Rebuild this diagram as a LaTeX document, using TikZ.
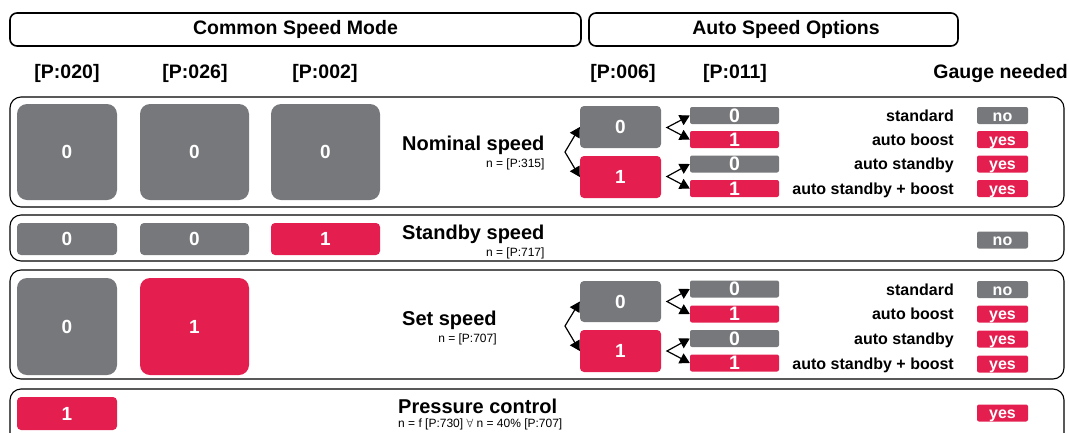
\documentclass[tikz,border=0pt]{standalone}
\usepackage{fontspec}
\setmainfont{Liberation Sans}
\usetikzlibrary{arrows.meta,positioning}
\definecolor{speedgray}{RGB}{119,120,123}
\definecolor{speedred}{RGB}{228,30,79}
\tikzset{
  headbox/.style={draw, line width=1.6pt, rounded corners=7pt, minimum height=33, inner sep=0pt,
    font=\bfseries\fontsize{19.5}{19.5}\selectfont},
  colhead/.style={inner sep=0pt, font=\bfseries\fontsize{19.5}{19.5}\selectfont},
  rowbox/.style={draw, line width=1.1pt, rounded corners=11pt},
  blk/.style={rounded corners=4pt, text=white, inner sep=0pt, text height=13.5pt, text depth=0pt,
    font=\bfseries\fontsize{19}{19}\selectfont},
  greyblk/.style={blk, fill=speedgray},
  redblk/.style={blk, fill=speedred},
  bar/.style={rounded corners=2pt, text=white, inner sep=0pt, minimum width=89, minimum height=17,
    text height=13.8pt, text depth=0pt, font=\bfseries\fontsize{19.5}{19.5}\selectfont},
  gauge/.style={rounded corners=2pt, text=white, inner sep=0pt, minimum width=51, minimum height=17,
    text height=11.5pt, text depth=0pt, font=\bfseries\fontsize{16}{16}\selectfont},
  optlbl/.style={anchor=east, inner sep=0pt, text height=11.5pt, text depth=0pt,
    font=\bfseries\fontsize{16}{16}\selectfont},
  rowtitle/.style={anchor=west, inner sep=0pt, font=\bfseries\fontsize{20}{20}\selectfont},
  rowsub/.style={inner sep=0pt, font=\fontsize{12}{12}\selectfont},
  fork/.style={line width=1.2pt, {Triangle[length=10pt,width=11pt]}-{Triangle[length=10pt,width=11pt]}}
}
\begin{document}
\begin{tikzpicture}[x=1pt, y=-1pt]
  \useasboundingbox (0,0) rectangle (1069,432);
  \clip (0,0) rectangle (1069,432);
  % headings
  \node[headbox, minimum width=571] (common) at (295.5,29.5) {Common Speed Mode};
  \node[headbox, minimum width=369] (autobox) at (773.5,29.5) {};
  \node[colhead] (autotitle) at (786,29.5) {Auto Speed Options};
  \node[colhead] (p020) at (67,73) {[P:020]};
  \node[colhead] (p026) at (195,73) {[P:026]};
  \node[colhead] (p002) at (325,73) {[P:002]};
  \node[colhead] (p006) at (623,73) {[P:006]};
  \node[colhead] (p011) at (735,73) {[P:011]};
  \node[colhead, anchor=east] (gauge) at (1068,73) {Gauge needed};

  % nominal speed
  \draw[rowbox] (10,97) rectangle (1064,207);
  \node[greyblk, rounded corners=10pt, minimum width=100, minimum height=96] (nom020) at (67,152) {0};
  \node[greyblk, rounded corners=10pt, minimum width=109, minimum height=96] (nom026) at (194.5,152) {0};
  \node[greyblk, rounded corners=10pt, minimum width=109, minimum height=96] (nom002) at (325.5,152) {0};
  \node[rowtitle] (nomtitle) at (402,145) {Nominal speed};
  \node[rowsub, below left=4pt and 0pt of nomtitle.south east] (nomsub) {n = [P:315]};
  \node[greyblk, minimum width=81, minimum height=42] (nom006a) at (620.5,127) {0};
  \node[redblk, minimum width=81, minimum height=42] (nom006b) at (620.5,177) {1};
  \coordinate (nomfork) at (565,152);
  \draw[fork] (nom006a.west) -- (nomfork) -- (nom006b.west);
  \node[bar, fill=speedgray] (nom011a) at (734.5,115.5) {0};
  \node[bar, fill=speedred] (nom011b) at (734.5,139.5) {1};
  \node[bar, fill=speedgray] (nom011c) at (734.5,164) {0};
  \node[bar, fill=speedred] (nom011d) at (734.5,188.5) {1};
  \coordinate (nomforka) at (667,127.5);
  \coordinate (nomforkb) at (667,176.5);
  \draw[fork] (nom011a.west) -- (nomforka) -- (nom011b.west);
  \draw[fork] (nom011c.west) -- (nomforkb) -- (nom011d.west);
  \node[optlbl] (nomstd) at (954,115.5) {standard};
  \node[optlbl] (nomboost) at (954,139.5) {auto boost};
  \node[optlbl] (nomstby) at (954,164) {auto standby};
  \node[optlbl] (nomboth) at (954,188.5) {auto standby + boost};
  \node[gauge, fill=speedgray] (nomga) at (1002.5,115.5) {no};
  \node[gauge, fill=speedred] (nomgb) at (1002.5,139.5) {yes};
  \node[gauge, fill=speedred] (nomgc) at (1002.5,164) {yes};
  \node[gauge, fill=speedred] (nomgd) at (1002.5,188.5) {yes};

  % standby speed
  \draw[rowbox] (10,215) rectangle (1064,261);
  \node[greyblk, minimum width=100, minimum height=32] (sby020) at (67,239) {0};
  \node[greyblk, minimum width=109, minimum height=32] (sby026) at (194.5,239) {0};
  \node[redblk, minimum width=109, minimum height=32] (sby002) at (325.5,239) {1};
  \node[rowtitle] (sbytitle) at (402,234) {Standby speed};
  \node[rowsub, below left=4pt and 0pt of sbytitle.south east] (sbysub) {n = [P:717]};
  \node[gauge, fill=speedgray] (sbyga) at (1002.5,240) {no};

  % set speed
  \draw[rowbox] (10,270) rectangle (1064,379);
  \node[greyblk, rounded corners=10pt, minimum width=100, minimum height=97] (set020) at (67,326.5) {0};
  \node[redblk, rounded corners=10pt, minimum width=109, minimum height=97] (set026) at (194.5,326.5) {1};
  \node[rowtitle] (settitle) at (402,320) {Set speed};
  \node[rowsub, below left=4pt and 0pt of settitle.south east] (setsub) {n = [P:707]};
  \node[greyblk, minimum width=81, minimum height=41] (set006a) at (620.5,301.5) {0};
  \node[redblk, minimum width=81, minimum height=42] (set006b) at (620.5,351) {1};
  \coordinate (setfork) at (565,326);
  \draw[fork] (set006a.west) -- (setfork) -- (set006b.west);
  \node[bar, fill=speedgray] (set011a) at (734.5,289) {0};
  \node[bar, fill=speedred] (set011b) at (734.5,314) {1};
  \node[bar, fill=speedgray] (set011c) at (734.5,338.5) {0};
  \node[bar, fill=speedred] (set011d) at (734.5,363) {1};
  \coordinate (setforka) at (667,301.5);
  \coordinate (setforkb) at (667,351);
  \draw[fork] (set011a.west) -- (setforka) -- (set011b.west);
  \draw[fork] (set011c.west) -- (setforkb) -- (set011d.west);
  \node[optlbl] (setstd) at (954,289.5) {standard};
  \node[optlbl] (setboost) at (954,314) {auto boost};
  \node[optlbl] (setstby) at (954,339) {auto standby};
  \node[optlbl] (setboth) at (954,364) {auto standby + boost};
  \node[gauge, fill=speedgray] (setga) at (1002.5,289.5) {no};
  \node[gauge, fill=speedred] (setgb) at (1002.5,314) {yes};
  \node[gauge, fill=speedred] (setgc) at (1002.5,339) {yes};
  \node[gauge, fill=speedred] (setgd) at (1002.5,364) {yes};

  % pressure control
  \draw[rowbox] (10,389) rectangle (1064,480);
  \node[redblk, minimum width=100, minimum height=33] (pre020) at (67,413.5) {1};
  \node[rowtitle] (pretitle) at (398,406) {Pressure control};
  \node[rowsub, below right=5pt and 0pt of pretitle.south west] (presub) {n = f [P:730] $\forall$ n = 40\% [P:707]};
  \node[gauge, fill=speedred] (prega) at (1002.5,413) {yes};
\end{tikzpicture}
\end{document}
